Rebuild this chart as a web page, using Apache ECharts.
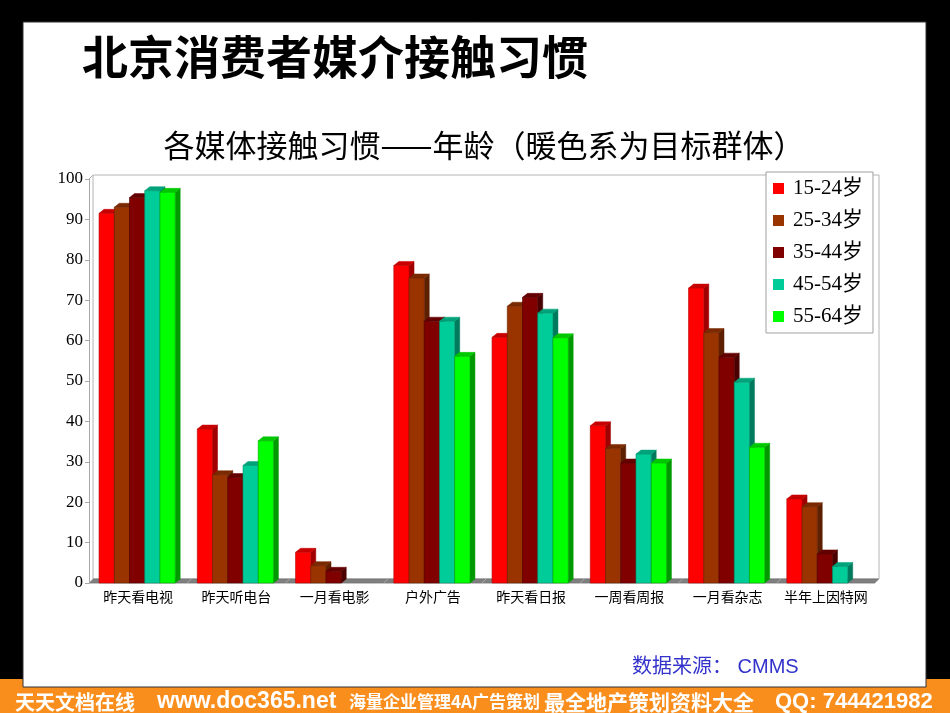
<!DOCTYPE html>
<html>
<head>
<meta charset="utf-8">
<script src="https://cdn.jsdelivr.net/npm/echarts@6/dist/echarts.min.js"></script>
<style>
html,body{margin:0;padding:0;background:#000;}
#chart{width:950px;height:713px;}
</style>
</head>
<body>
<div id="chart"></div>
<script>
var categories = ['昨天看电视','昨天听电台','一月看电影','户外广告','昨天看日报','一周看周报','一月看杂志','半年上因特网'];
var seriesNames = ['15-24岁','25-34岁','35-44岁','45-54岁','55-64岁'];
var age15_24 = [91.5, 38.1, 7.6, 78.6, 60.8, 38.9, 73.0, 20.8];
var age25_34 = [93.0, 26.8, 4.3, 75.5, 68.5, 33.3, 62.0, 18.9];
var age35_44 = [95.4, 26.1, 2.9, 64.8, 70.7, 29.7, 55.9, 7.2];
var age45_54 = [97.1, 29.1, 0, 64.8, 66.8, 31.9, 49.7, 4.1];
var age55_64 = [96.7, 35.2, 0, 56.1, 60.7, 29.7, 33.6, 0];
var yTicks = [0,10,20,30,40,50,60,70,80,90,100];

var seriesValues = [age15_24, age25_34, age35_44, age45_54, age55_64];
var frontColors = ['#FF0000','#993300','#800000','#00CC99','#00FF00'];
var sideColors  = ['#A00000','#5C1F00','#4A0000','#007A5C','#009A00'];
var topColors   = ['#C80000','#7A2900','#640000','#00A37A','#00C800'];
var edgeColors  = ['#B00000','#6A2300','#500000','#00906C','#00A800'];

function makeRender(i){
  return function(params, api){
    var v = api.value(1);
    if (!v) return null;
    var c = api.value(0);
    var p0 = api.coord([c, 0]);
    var p1 = api.coord([c, v]);
    var band = api.size([1,0])[0];
    var bw = band * 0.155;
    var left = p0[0] - bw*2.5 - 1 + i*bw;
    var dx = 5, dy = 4;
    var yt = p1[1], yb = p0[1];
    return {
      type: 'group',
      children: [
        {type:'polygon', shape:{points:[[left+bw,yt],[left+bw+dx,yt-dy],[left+bw+dx,yb-dy],[left+bw,yb]]},
         style:{fill:sideColors[i], stroke:sideColors[i], lineWidth:0.5}},
        {type:'polygon', shape:{points:[[left,yt],[left+dx,yt-dy],[left+bw+dx,yt-dy],[left+bw,yt]]},
         style:{fill:topColors[i], stroke:topColors[i], lineWidth:0.5}},
        {type:'rect', shape:{x:left, y:yt, width:bw, height:yb-yt},
         style:{fill:frontColors[i], stroke:edgeColors[i], lineWidth:0.6}}
      ]
    };
  };
}

var series = seriesNames.map(function(name, i){
  return {
    name: name,
    type: 'custom',
    renderItem: makeRender(i),
    itemStyle: {color: frontColors[i]},
    encode: {x: 0, y: 1},
    z: 3,
    data: seriesValues[i].map(function(v, k){ return [k, v]; })
  };
});

// plot geometry (decoration only)
var gL = 89, gR = 875, gT = 179, gB = 583, dX = 4, dY = 4;
var floorDividers = [];
for (var k = 0; k <= categories.length; k++) {
  var x = gL + (gR - gL) * k / categories.length;
  floorDividers.push({type:'line', z:1, shape:{x1:x, y1:gB, x2:x+dX, y2:gB-dY}, style:{stroke:'#A8A8A8', lineWidth:1}});
}

var chart = echarts.init(document.getElementById('chart'), null, {renderer:'canvas'});
chart.setOption({
  animation: false,
  backgroundColor: '#000',
  grid: {left: gL, right: 950 - gR, top: gT, bottom: 713 - gB, containLabel: false},
  legend: {
    data: seriesNames,
    orient: 'vertical',
    left: 766, top: 172,
    padding: [6, 10, 6, 7],
    itemGap: 11,
    itemWidth: 11, itemHeight: 11,
    icon: 'rect',
    backgroundColor: '#fff',
    borderColor: '#A0A0A0', borderWidth: 1,
    z: 10,
    textStyle: {fontFamily: "'Liberation Serif', 'Noto Sans CJK SC'", fontSize: 21, color: '#000', padding: [0,0,0,4]}
  },
  xAxis: {
    type: 'category',
    data: categories,
    axisLine: {show: false},
    axisTick: {show: false},
    axisLabel: {interval: 0, margin: 7, fontSize: 14, color: '#000', fontFamily: "'Noto Sans CJK SC'"}
  },
  yAxis: {
    type: 'value',
    min: 0, max: 100, interval: 10,
    axisLine: {show: true, lineStyle: {color: '#A8A8A8', width: 1}},
    axisTick: {show: true, length: 4, lineStyle: {color: '#A8A8A8'}},
    splitLine: {show: false},
    axisLabel: {margin: 6, fontSize: 17, color: '#000', fontFamily: "'Liberation Serif'",
      formatter: function(v){ return yTicks.indexOf(v) >= 0 ? String(v) : ''; }}
  },
  graphic: [
    {type:'rect', z:-10, shape:{x:0, y:679, width:950, height:34}, style:{fill:'#F98E1D'}},
    {type:'rect', z:-9, shape:{x:23, y:22, width:903, height:665}, style:{fill:'#fff', stroke:'#333', lineWidth:1}},
    // back wall
    {type:'rect', z:0, shape:{x:gL+dX, y:gT-dY, width:gR-gL, height:gB-gT}, style:{fill:'none', stroke:'#B4B4B4', lineWidth:1}},
    {type:'line', z:0, shape:{x1:gL, y1:gT, x2:gL+dX, y2:gT-dY}, style:{stroke:'#B4B4B4', lineWidth:1}},
    // floor
    {type:'polygon', z:1, shape:{points:[[gL,gB],[gR,gB],[gR+dX,gB-dY],[gL+dX,gB-dY]]}, style:{fill:'#808080', stroke:'#6E6E6E', lineWidth:0.8}}
  ].concat(floorDividers).concat([
    {type:'text', z:5, left:82, top:34, style:{text:'北京消费者媒介接触习惯', fontFamily:"'Noto Sans CJK SC'", fontWeight:'bold', fontSize:46, fill:'#000'}},
    {type:'text', z:5, x:484, y:145, style:{text:'各媒体接触习惯——年龄（暖色系为目标群体）', fontFamily:"'Noto Sans CJK SC'", fontSize:31, fill:'#000', textAlign:'center', textVerticalAlign:'middle'}},
    {type:'text', z:5, x:632, y:667, style:{text:'数据来源： CMMS', fontFamily:"'Liberation Sans','Noto Sans CJK SC'", fontSize:20, fill:'#3333CC', textVerticalAlign:'middle'}},
    {type:'text', z:5, x:15, y:702, style:{text:'天天文档在线', fontFamily:"'Noto Sans CJK SC'", fontWeight:'bold', fontSize:20, fill:'#fff', textVerticalAlign:'middle'}},
    {type:'text', z:5, x:157, y:702, style:{text:'www.doc365.net', fontFamily:"'Liberation Sans'", fontWeight:'bold', fontSize:23, fill:'#fff', textVerticalAlign:'middle'}},
    {type:'text', z:5, x:349, y:702, style:{text:'海量企业管理4A广告策划', fontFamily:"'Noto Sans CJK SC'", fontWeight:'bold', fontSize:17, fill:'#fff', textVerticalAlign:'middle'}},
    {type:'text', z:5, x:544, y:702, style:{text:'最全地产策划资料大全', fontFamily:"'Noto Sans CJK SC'", fontWeight:'bold', fontSize:21, fill:'#fff', textVerticalAlign:'middle'}},
    {type:'text', z:5, x:775, y:702, style:{text:'QQ: 744421982', fontFamily:"'Liberation Sans'", fontWeight:'bold', fontSize:22, fill:'#fff', textVerticalAlign:'middle'}}
  ]),
  series: series
});
</script>
</body>
</html>
